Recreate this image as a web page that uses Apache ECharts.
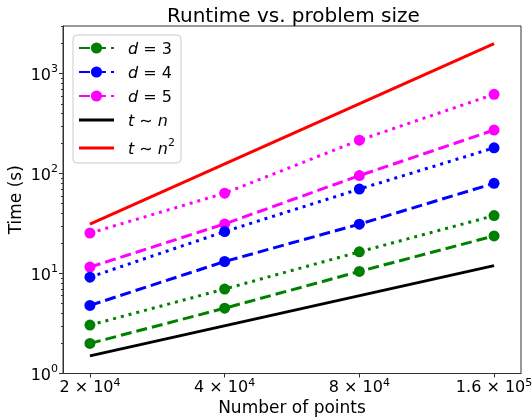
<!DOCTYPE html>
<html>
<head>
<meta charset="utf-8">
<script src="https://cdn.jsdelivr.net/npm/echarts@6/dist/echarts.min.js"></script>
<style>html,body{margin:0;padding:0;background:#fff;}#c{width:532px;height:418px;}</style>
</head>
<body>
<div id="c"></div>
<script>
// Data
var points = [20000, 40000, 80000, 160000];
var d3Dashed = [2.0, 4.5, 10.5, 23.8];
var d3Dotted = [3.05, 7.0, 16.5, 38.0];
var d4Dashed = [4.8, 13.2, 31.2, 80];
var d4Dotted = [9.2, 26.3, 70, 181];
var d5Dashed = [11.6, 31.4, 95.5, 273];
var d5Dotted = [25.4, 63.7, 216, 622];
var refPoints = [20000, 160000];
var tLinear = [1.5, 12];
var tQuadratic = [31.25, 2000];
var xTickLabels = ['2 × 10{sup|4}', '4 × 10{sup|4}', '8 × 10{sup|4}', '1.6 × 10{sup|5}'];
var yMajor = [1, 10, 100, 1000];
var yMinor = [2,3,4,5,6,7,8,9,20,30,40,50,60,70,80,90,200,300,400,500,600,700,800,900,2000,3000];

var FONT = 'DejaVu Sans';
function pairs(xs, ys) { return xs.map(function (x, i) { return [x, ys[i]]; }); }

var DASH = [11, 5];
var DOT = [3, 5];

function markSeries(name, color, ys, dash) {
  return {
    name: name, type: 'line', data: pairs(points, ys),
    symbol: 'circle', symbolSize: 11, showSymbol: true,
    itemStyle: { color: color },
    lineStyle: { color: color, width: 3, type: dash, cap: 'butt' },
    emphasis: { disabled: true }, z: 3
  };
}
function refSeries(name, color, ys) {
  return {
    name: name, type: 'line', data: pairs(refPoints, ys),
    symbol: 'none', showSymbol: false,
    itemStyle: { color: color },
    lineStyle: { color: color, width: 3, type: 'solid' },
    emphasis: { disabled: true }, z: 2
  };
}

var legendNames = {
  d3: '{i|d}{r| = 3}', d4: '{i|d}{r| = 4}', d5: '{i|d}{r| = 5}',
  tn: '{i|t}{r| ∼ }{i|n}', tn2: '{i|t}{r| ∼ }{i|n}{sup|2}'
};
var linePath = 'path://M0,0H36V3H0Z';

var supStyle = { fontSize: 11, lineHeight: 10, verticalAlign: 'top', fontFamily: FONT, color: '#000' };

var option = {
  animation: false,
  backgroundColor: '#fff',
  title: {
    text: 'Runtime vs. problem size',
    left: 162, top: 2,
    textStyle: { fontFamily: FONT, fontSize: 20, fontWeight: 'normal', color: '#000' }
  },
  grid: {
    left: 63, right: 11, top: 26, bottom: 44.5,
    outerBoundsMode: 'none', containLabel: false,
    show: true, borderColor: '#333', borderWidth: 1, backgroundColor: 'transparent'
  },
  legend: {
    orient: 'vertical', left: 73, top: 35,
    padding: [7, 6, 5, 5],
    itemWidth: 35, itemHeight: 14, itemGap: 8,
    backgroundColor: 'rgba(255,255,255,0.8)',
    borderColor: '#ccc', borderWidth: 1, borderRadius: 4,
    data: [
      { name: 'd3' }, { name: 'd4' }, { name: 'd5' },
      { name: 'tn', icon: linePath }, { name: 'tn2', icon: linePath }
    ],
    formatter: function (n) { return legendNames[n]; },
    textStyle: {
      fontFamily: FONT, fontSize: 16, color: '#000', padding: [0, 0, 0, 9],
      rich: {
        i: { fontStyle: 'italic', fontSize: 16, lineHeight: 20, verticalAlign: 'bottom', fontFamily: FONT, color: '#000' },
        r: { fontSize: 16, lineHeight: 20, verticalAlign: 'bottom', fontFamily: FONT, color: '#000' },
        sup: supStyle
      }
    },
    selectedMode: false
  },
  xAxis: {
    type: 'log', logBase: 2, min: 17411, max: 183792,
    name: 'Number of points', nameLocation: 'middle', nameGap: 27, nameMoveOverlap: false,
    nameTextStyle: { fontFamily: FONT, fontSize: 17, color: '#000' },
    axisLine: { show: true, onZero: false, lineStyle: { color: '#333', width: 1 } },
    axisTick: { show: true, inside: false, length: 4, lineStyle: { color: '#333' }, customValues: points },
    axisLabel: {
      customValues: points, margin: 4, hideOverlap: false,
      formatter: function (v) { var i = points.indexOf(v); return i >= 0 ? xTickLabels[i] : ''; },
      fontFamily: FONT, fontSize: 16, color: '#000', lineHeight: 20, verticalAlign: 'top',
      rich: { sup: supStyle }
    },
    splitLine: { show: false }, minorTick: { show: false }
  },
  yAxis: [{
    type: 'log', logBase: 10, min: 1, max: 3000,
    name: 'Time (s)', nameLocation: 'middle', nameGap: 38, nameRotate: 90, nameMoveOverlap: false,
    nameTextStyle: { fontFamily: FONT, fontSize: 17, color: '#000' },
    axisLine: { show: true, onZero: false, lineStyle: { color: '#333', width: 1 } },
    axisTick: { show: true, inside: false, length: 4, lineStyle: { color: '#333' }, customValues: yMajor },
    axisLabel: {
      customValues: yMajor, margin: 5,
      formatter: function (v) { var e = Math.round(Math.log10(v)); return '{b|10}{sup|' + e + '}'; },
      fontFamily: FONT, fontSize: 16, color: '#000',
      rich: {
        b: { fontSize: 16, lineHeight: 20, verticalAlign: 'bottom', fontFamily: FONT, color: '#000' },
        sup: supStyle
      }
    },
    splitLine: { show: false }
  }, {
    type: 'log', logBase: 10, min: 1, max: 3000, position: 'left',
    axisLine: { show: false },
    axisTick: { show: true, inside: false, length: 2, lineStyle: { color: '#333' }, customValues: yMinor },
    axisLabel: { show: false, customValues: yMinor },
    splitLine: { show: false }
  }],
  series: [
    markSeries('d3', '#008000', d3Dashed, DASH),
    markSeries('d4', '#0000ff', d4Dashed, DASH),
    markSeries('d5', '#ff00ff', d5Dashed, DASH),
    markSeries('d3dot', '#008000', d3Dotted, DOT),
    markSeries('d4dot', '#0000ff', d4Dotted, DOT),
    markSeries('d5dot', '#ff00ff', d5Dotted, DOT),
    refSeries('tn', '#000000', tLinear),
    refSeries('tn2', '#ff0000', tQuadratic)
  ]
};

var chart = echarts.init(document.getElementById('c'), null, { renderer: 'canvas' });
chart.setOption(option);
</script>
</body>
</html>
